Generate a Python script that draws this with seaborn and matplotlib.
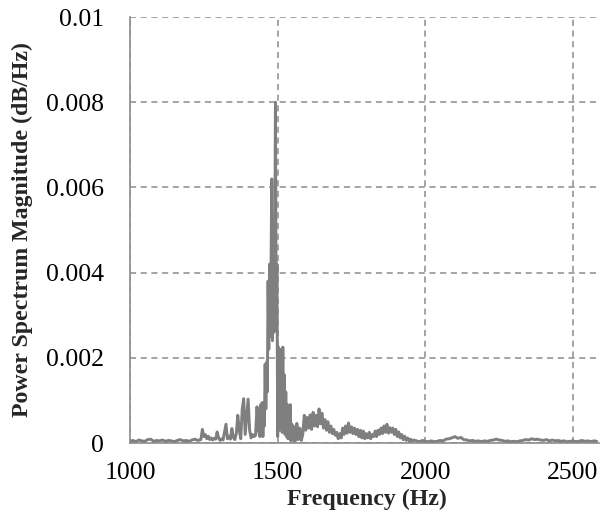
import numpy as np
import pandas as pd
import matplotlib
matplotlib.use("Agg")
import matplotlib.pyplot as plt
import seaborn as sns

# Power spectrum estimate, magnitudes in units of 1e-4 dB/Hz.
# Low band (quiet floor below the tone cluster)
freq_low = [1000, 1010, 1020, 1030, 1040, 1050, 1060, 1070, 1080, 1090, 1100, 1110,
            1120, 1130, 1140, 1150, 1160, 1170, 1180, 1190, 1200, 1210, 1220, 1230]
mag_low = [0.4, 0.6, 0.3, 0.7, 0.5, 0.4, 0.8, 0.9, 0.4, 0.6, 0.5, 0.7,
           0.4, 0.6, 0.5, 0.3, 0.6, 0.8, 0.5, 0.6, 0.4, 0.7, 0.9, 0.6]

# Side lobes leading up to the main tone
freq_rise = [1240, 1245, 1250, 1255, 1260, 1265, 1270, 1275, 1280, 1285,
             1290, 1295, 1300, 1305, 1310, 1315, 1320, 1325, 1330, 1335,
             1340, 1345, 1350, 1355, 1360, 1365, 1370, 1375, 1380, 1385,
             1390, 1395, 1400, 1405, 1410, 1415, 1420, 1425, 1430, 1435]
mag_rise = [0.8, 3.2, 1.5, 2.0, 1.0, 1.6, 0.8, 1.2, 0.7, 1.1,
            0.9, 2.6, 1.2, 0.6, 1.0, 0.7, 2.5, 4.4, 1.0, 1.6,
            0.9, 3.4, 1.3, 0.8, 2.2, 6.5, 3.0, 1.0, 8.0, 10.4,
            2.0, 6.0, 10.3, 3.0, 1.2, 2.0, 1.5, 1.8, 8.5, 3.0]

# Main tone around 1.5 kHz
freq_peak = [1440, 1442.5, 1445, 1447.5, 1450, 1452.5, 1455, 1457.5,
             1460, 1462.5, 1465, 1467.5, 1470, 1472.5, 1475, 1477.5,
             1480, 1482.5, 1485, 1487.5, 1490, 1492.5, 1495, 1497.5,
             1500, 1502.5, 1505, 1507.5, 1510, 1512.5, 1515, 1517.5,
             1520, 1522.5, 1525, 1527.5, 1530, 1532.5, 1535, 1537.5,
             1540, 1542.5, 1545, 1547.5, 1550, 1552.5, 1555, 1557.5]
mag_peak = [1.5, 9.0, 2.0, 9.5, 1.5, 8.0, 4.0, 18.5,
            8.0, 19.0, 12.0, 38.0, 22.0, 42.0, 25.0, 41.0,
            62.0, 24.0, 40.0, 26.0, 43.0, 80.0, 30.0, 42.0,
            1.5, 22.5, 3.0, 22.0, 4.0, 21.0, 2.5, 22.5,
            3.0, 16.0, 2.0, 12.0, 1.5, 9.0, 1.0, 8.5,
            1.0, 9.0, 0.5, 4.5, 0.8, 4.0, 0.5, 3.0]

# Broad shoulder above the tone
freq_tail = [1560, 1565, 1570, 1575, 1580, 1585, 1590, 1595, 1600, 1605,
             1610, 1615, 1620, 1625, 1630, 1635, 1640, 1645, 1650, 1655,
             1660, 1665, 1670, 1675, 1680, 1685, 1690, 1695, 1700, 1705,
             1710, 1715, 1720, 1725, 1730, 1735, 1740, 1745, 1750, 1755,
             1760, 1765, 1770, 1775, 1780, 1785, 1790, 1795, 1800, 1805,
             1810, 1815, 1820, 1825, 1830, 1835, 1840, 1845, 1850, 1855,
             1860, 1865, 1870, 1875, 1880, 1885, 1890, 1895, 1900, 1905,
             1910, 1915, 1920, 1925, 1930, 1935, 1940, 1945, 1950, 1955, 1960]
mag_tail = [0.5, 4.6, 0.8, 3.5, 0.6, 2.0, 6.5, 3.0, 6.0, 3.5,
            6.6, 3.2, 7.2, 4.0, 6.5, 3.8, 8.0, 4.5, 7.0, 3.5,
            5.5, 3.0, 5.0, 2.5, 4.0, 2.2, 3.2, 1.8, 2.5, 1.0,
            2.2, 1.2, 3.5, 2.0, 4.0, 2.3, 4.7, 2.5, 3.8, 2.2,
            3.5, 2.0, 3.2, 1.5, 3.0, 1.2, 2.8, 1.0, 2.2, 1.2,
            2.5, 1.0, 2.0, 1.5, 2.8, 1.5, 3.0, 2.0, 3.5, 2.2,
            4.0, 2.5, 4.4, 2.3, 3.6, 2.5, 3.5, 2.0, 3.2, 1.5,
            2.6, 1.2, 2.0, 0.8, 1.6, 0.6, 1.2, 0.5, 0.9, 0.4, 0.7]

# High band floor
freq_high = [1970, 1980, 1990, 2000, 2010, 2020, 2030, 2040, 2050, 2060,
             2070, 2080, 2090, 2100, 2110, 2120, 2130, 2140, 2150, 2160,
             2170, 2180, 2190, 2200, 2210, 2220, 2230, 2240, 2250, 2260,
             2270, 2280, 2290, 2300, 2310, 2320, 2330, 2340, 2350, 2360,
             2370, 2380, 2390, 2400, 2410, 2420, 2430, 2440, 2450, 2460,
             2470, 2480, 2490, 2500, 2510, 2520, 2530, 2540, 2550, 2560,
             2570, 2580]
mag_high = [0.5, 0.3, 0.6, 0.4, 0.3, 0.5, 0.3, 0.4, 0.6, 0.5,
            0.9, 1.0, 1.2, 1.5, 1.1, 1.3, 0.8, 0.7, 0.5, 0.6,
            0.4, 0.5, 0.3, 0.5, 0.4, 0.6, 0.7, 0.9, 0.7, 0.6,
            0.4, 0.5, 0.3, 0.4, 0.3, 0.5, 0.6, 0.8, 0.7, 1.0,
            0.8, 0.9, 0.7, 0.6, 0.8, 0.5, 0.7, 0.5, 0.6, 0.4,
            0.5, 0.3, 0.4, 0.5, 0.3, 0.4, 0.6, 0.4, 0.5, 0.3,
            0.5, 0.4]

x_ticks = [1000, 1500, 2000, 2500]
y_ticks = [0, 0.002, 0.004, 0.006, 0.008, 0.01]
y_tick_labels = ["0", "0.002", "0.004", "0.006", "0.008", "0.01"]

freq = freq_low + freq_rise + freq_peak + freq_tail + freq_high
mag = np.array(mag_low + mag_rise + mag_peak + mag_tail + mag_high) * 1e-4
df = pd.DataFrame({"Frequency": freq, "Magnitude": mag})

sns.set_theme(style="white")
plt.rcParams["font.family"] = ["Liberation Serif", "DejaVu Serif"]

axis_grey = "#8c8c8c"

fig = plt.figure(figsize=(6.10, 5.23), dpi=100)
ax = fig.add_axes([130 / 610, 80 / 523, 469 / 610, 426 / 523])

sns.lineplot(data=df, x="Frequency", y="Magnitude", ax=ax, color="#7f7f7f",
             linewidth=2.1, estimator=None, sort=False)

ax.set_xlim(1000, 2588)
ax.set_ylim(0, 0.01)
ax.set_xticks(x_ticks)
ax.set_xticklabels([str(t) for t in x_ticks])
ax.set_yticks(y_ticks)
ax.set_yticklabels(y_tick_labels)

ax.grid(True, which="major", axis="both", color=axis_grey, linestyle=(0, (4, 3)),
        linewidth=1.1)
ax.set_axisbelow(True)

for side in ("top", "right"):
    ax.spines[side].set_visible(False)
for side in ("left", "bottom"):
    ax.spines[side].set_color(axis_grey)
    ax.spines[side].set_linewidth(1.2)

ax.tick_params(axis="both", direction="inout", length=11, width=1.1,
               color=axis_grey, labelcolor="black", labelsize=18.5)
ax.tick_params(axis="y", pad=13)
ax.tick_params(axis="x", pad=8)

ax.set_xlabel("Frequency (Hz)", fontsize=17.2, fontweight="bold")
ax.set_ylabel("Power Spectrum Magnitude (dB/Hz)", fontsize=17.2,
              fontweight="bold")
ax.xaxis.set_label_coords(0.505, -0.108)
ax.yaxis.set_label_coords(-0.207, 0.5)

fig.savefig("out.png", dpi=100)
